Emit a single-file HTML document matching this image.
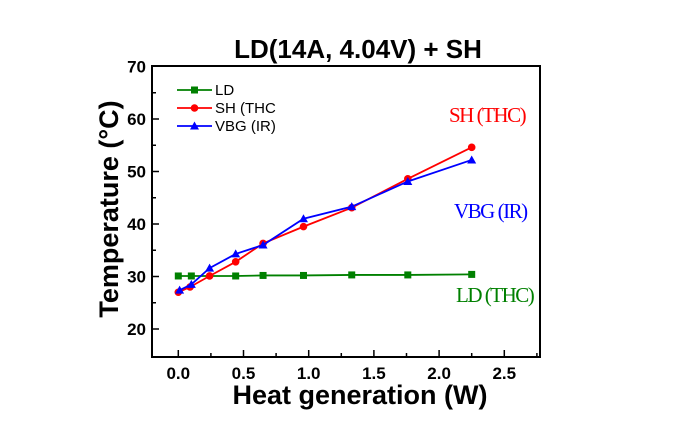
<!DOCTYPE html>
<html><head><meta charset="utf-8"><style>
body{margin:0;background:#fff;}
svg{display:block;font-family:"Liberation Sans",Arial,sans-serif;}
</style></head><body>
<svg id="c" width="699" height="422"></svg>
<script>
const ldX=[0.0,0.1,0.44,0.65,0.96,1.33,1.76,2.25];
const ldY=[30.1,30.1,30.1,30.2,30.2,30.3,30.3,30.4];
const shX=[0.0,0.09,0.24,0.44,0.65,0.96,1.33,1.76,2.25];
const shY=[27.0,28.0,30.1,32.8,36.3,39.5,43.1,48.6,54.6];
const vbX=[0.01,0.1,0.24,0.44,0.65,0.96,1.33,1.76,2.25];
const vbY=[27.4,28.5,31.6,34.3,36.0,41.0,43.3,48.1,52.2];
const xTicks=[0,0.5,1,1.5,2,2.5];
const xTickLabels=["0.0","0.5","1.0","1.5","2.0","2.5"];
const yTicks=[20,30,40,50,60,70];
const yTickLabels=["20","30","40","50","60","70"];
const L=152,R=540,T=66,B=357;
function sx(v){return 178.3+v*130.4;}
function sy(v){return 66.5+(70-v)*5.25;}
const svg=document.getElementById('c');const NS='http://www.w3.org/2000/svg';
function mk(t,a,p){const e=document.createElementNS(NS,t);for(const k in a)e.setAttribute(k,a[k]);(p||svg).appendChild(e);return e;}
let e;
e=mk('rect',{x:L,y:T,width:R-L,height:B-T,fill:'none',stroke:'#000','stroke-width':2});


for(let v=0;v<=2.751;v+=0.25){const x=sx(v);const major=Math.abs(v*2-Math.round(v*2))<1e-6;
e=mk('line',{x1:x,x2:x,y1:B,y2:B-(major?7:4),stroke:'#000','stroke-width':1.5});

}
for(let v=20;v<70;v+=5){const y=sy(v);const major=v%10===0;
e=mk('line',{x1:L,x2:L+(major?7:4),y1:y,y2:y,stroke:'#000','stroke-width':1.5});

}
xTicks.forEach((v,i)=>{e=mk('text',{x:sx(v),y:B+22,'text-anchor':'middle','font-size':17,'font-weight':'bold'});e.textContent=xTickLabels[i];

});
yTicks.forEach((v,i)=>{e=mk('text',{x:L-6,y:sy(v)+6,'text-anchor':'end','font-size':17,'font-weight':'bold'});e.textContent=yTickLabels[i];

});
e=mk('text',{x:358,y:58,'text-anchor':'middle','font-size':26,'font-weight':'bold'});e.textContent='LD(14A, 4.04V) + SH';


e=mk('text',{x:360,y:404,'text-anchor':'middle','font-size':27,'font-weight':'bold'});e.textContent='Heat generation (W)';


e=mk('text',{x:0,y:0,'text-anchor':'middle','font-size':27,'font-weight':'bold',transform:'translate(118,209) rotate(-90)'});e.textContent='Temperature (°C)';


function marker(type,x,y,c,g){
 if(type==='sq')return mk('rect',{x:x-3.5,y:y-3.5,width:7,height:7,fill:c},g);
 if(type==='ci')return mk('circle',{cx:x,cy:y,r:3.8,fill:c},g);
 return mk('polygon',{points:`${x},${y-4.5} ${x-4.5},${y+3.5} ${x+4.5},${y+3.5}`,fill:c},g);
}
function series(name,xs,ys,c,type){
 const g=mk('g',{});
 
 e=mk('polyline',{points:xs.map((v,i)=>sx(v)+','+sy(ys[i])).join(' '),fill:'none',stroke:c,'stroke-width':1.8},g);
 
 
 xs.forEach((v,i)=>{e=marker(type,sx(v),sy(ys[i]),c,g);
 
 });
}
series('series-ld',ldX,ldY,'#008000','sq');
series('series-sh',shX,shY,'#ff0000','ci');
series('series-vbg',vbX,vbY,'#0000ff','tr');
const leg=[['LD','#008000','sq'],['SH (THC','#ff0000','ci'],['VBG (IR)','#0000ff','tr']];
leg.forEach((l,i)=>{const y=90+i*18;const g=mk('g',{});
 
 
 mk('line',{x1:177,x2:212,y1:y,y2:y,stroke:l[1],'stroke-width':1.8},g);
 marker(l[2],194.5,y,l[1],g);
 const t=mk('text',{x:215,y:y+5,'font-size':15},g);t.textContent=l[0];});
const ann=[['SH (THC)','#ff0000',449,122],['VBG (IR)','#0000ff',454,218],['LD (THC)','#008000',456,302]];
ann.forEach(a=>{e=mk('text',{x:a[2],y:a[3],fill:a[1],'font-size':21,'font-family':'Liberation Serif, serif','letter-spacing':-1.5});e.textContent=a[0];

});
</script>
</body></html>
